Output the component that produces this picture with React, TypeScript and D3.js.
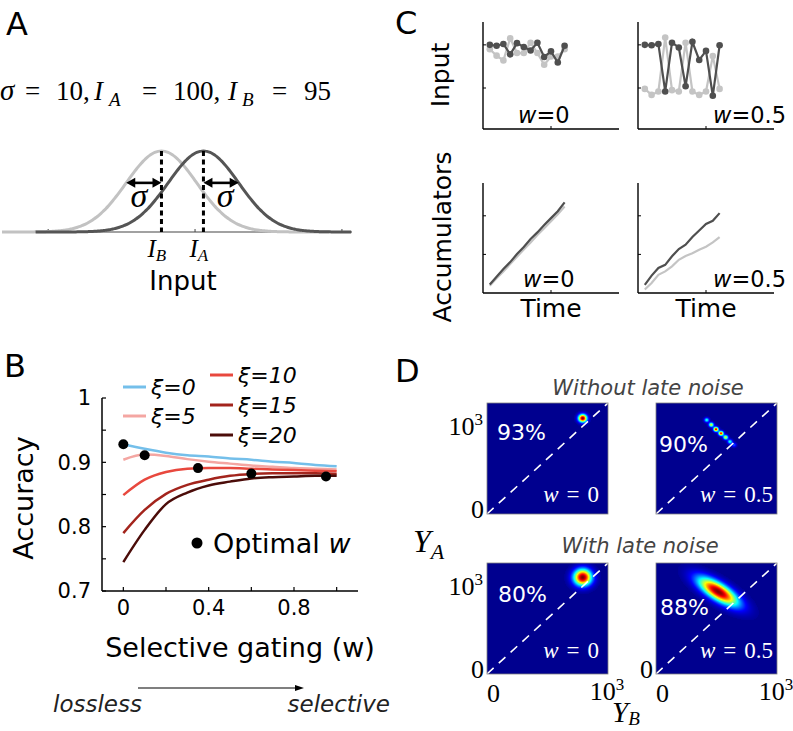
import React, { useMemo } from 'react'
import * as d3 from 'd3'

const SANS = 'DejaVu Sans, sans-serif'
const SERIF = 'Liberation Serif, serif'

// ---- A: the two input distributions ----
const inputNames = ['A', 'B']
const inputMeans = [100, 95]
const bumpWidth = 4.2 // drawn width of the bumps, schematic
const inputColors = ['#555555', '#c2c2c2']
const bumpSpans = [[80, 117.7], [76, 115]]
const inputTicks = [81.5, 99, 116.5]

// ---- B: accuracy vs selective gating ----
const gatingW = [0, 0.1, 0.2, 0.3, 0.4, 0.5, 0.6, 0.7, 0.8, 0.9, 1]
const xiLevels = [0, 5, 10, 15, 20]
const xiColors = ['#74bfea', '#f4a6a2', '#e8483e', '#a3241c', '#4b0c09']
const accXi0 = [0.928, 0.921, 0.915, 0.911, 0.909, 0.906, 0.904, 0.901, 0.899, 0.896, 0.894]
const accXi5 = [0.904, 0.912, 0.91, 0.905, 0.901, 0.898, 0.895, 0.893, 0.891, 0.89, 0.889]
const accXi10 = [0.849, 0.873, 0.885, 0.89, 0.891, 0.891, 0.89, 0.889, 0.888, 0.887, 0.886]
const accXi15 = [0.79, 0.826, 0.851, 0.865, 0.873, 0.879, 0.882, 0.883, 0.883, 0.883, 0.882]
const accXi20 = [0.745, 0.795, 0.835, 0.853, 0.864, 0.87, 0.875, 0.877, 0.878, 0.879, 0.879]
const accuracy = [accXi0, accXi5, accXi10, accXi15, accXi20]
const optimalW = [0, 0.1, 0.35, 0.6, 0.95]
const optimalAcc = [0.928, 0.911, 0.891, 0.8825, 0.878]
const accTicks = [0.7, 0.8, 0.9, 1]
const accTickLabels = ['0.7', '0.8', '0.9', '1']
const accMinor = [0.75, 0.85, 0.95]
const wTicks = [0, 0.4, 0.8]
const wMinor = [0.2, 0.6, 1]

// ---- C: example trials ----
const trialT = [1, 2, 3, 4, 5, 6, 7, 8, 9, 10, 11, 12]
const inW0A = [1.0, 0.98, 1.02, 0.78, 1.04, 0.95, 0.87, 1.05, 0.72, 0.85, 0.59, 0.98]
const inW0B = [0.9, 0.75, 0.64, 1.15, 0.81, 0.81, 1.05, 0.81, 0.54, 0.73, 0.73, 0.9]
const inW5A = [1.0, 0.99, 1.02, -0.08, 1.05, 0.94, 0.04, 1.07, 0.65, 0.86, -0.18, 0.99]
const inW5B = [-0.02, -0.16, -0.08, 1.17, -0.05, -0.08, 1.05, -0.08, -0.16, -0.08, 0.74, -0.02]
const accW0A = [0.22, 0.42, 0.62, 0.8, 1.01, 1.19, 1.4, 1.57, 1.76, 1.94, 2.12, 2.35]
const accW0B = [0.19, 0.38, 0.56, 0.75, 0.94, 1.13, 1.31, 1.5, 1.68, 1.86, 2.04, 2.24]
const accW5A = [0.21, 0.45, 0.65, 0.73, 0.95, 1.14, 1.25, 1.45, 1.62, 1.79, 1.87, 2.07]
const accW5B = [0.09, 0.26, 0.47, 0.56, 0.69, 0.86, 0.96, 1.03, 1.12, 1.2, 1.31, 1.45]
const gatingLabels = ['0', '0.5']

// ---- D: joint distributions of the accumulators ----
const heatTitles = ['Without late noise', 'With late noise']
const heatPercents = ['93%', '90%', '80%', '88%']
const heatW = ['0', '0.5', '0', '0.5']
const blobsNoLate0 = [{ b: 949, a: 1035, s1: 30, s2: 30, ang: 0, p: 1 }]
const blobsNoLate5 = [
  { b: 503, a: 1016, s1: 17, s2: 17, ang: 0, p: 0.4 },
  { b: 548, a: 965, s1: 17, s2: 17, ang: 0, p: 0.6 },
  { b: 595, a: 916, s1: 17, s2: 17, ang: 0, p: 0.92 },
  { b: 645, a: 872, s1: 17, s2: 17, ang: 0, p: 0.88 },
  { b: 691, a: 829, s1: 17, s2: 17, ang: 0, p: 0.6 },
  { b: 734, a: 782, s1: 17, s2: 17, ang: 0, p: 0.4 },
  { b: 774, a: 746, s1: 17, s2: 17, ang: 0, p: 0.2 },
]
const blobsLate0 = [{ b: 949, a: 1045, s1: 62, s2: 62, ang: 0, p: 1 }]
const blobsLate5 = [{ b: 618, a: 890, s1: 160, s2: 60, ang: -35, p: 1 }]
const heatBlobs = [blobsNoLate0, blobsNoLate5, blobsLate0, blobsLate5]

const jet = d3
  .scaleLinear<string>()
  .domain([0, 0.125, 0.375, 0.625, 0.875, 1])
  .range(['#00008f', '#0000ff', '#00ffff', '#ffff00', '#ff0000', '#800000'])
  .clamp(true)

function density(b: number, a: number, blobs: any[]) {
  let d = 0
  for (const g of blobs) {
    const t = (g.ang * Math.PI) / 180
    const db = b - g.b
    const da = a - g.a
    const u = db * Math.cos(t) + da * Math.sin(t)
    const v = -db * Math.sin(t) + da * Math.cos(t)
    d += g.p * Math.exp(-(u * u) / (2 * g.s1 * g.s1) - (v * v) / (2 * g.s2 * g.s2))
  }
  return Math.min(1, d)
}

function Arrow({ x1, x2, y, both }: any) {
  const h = 9
  const w = 5
  return (
    <g>
      <line x1={both ? x1 + h - 1 : x1} x2={x2 - h + 1} y1={y} y2={y} stroke="#000" strokeWidth={2.6} />
      <polygon points={`${x2},${y} ${x2 - h},${y - w} ${x2 - h},${y + w}`} fill="#000" />
      {both && <polygon points={`${x1},${y} ${x1 + h},${y - w} ${x1 + h},${y + w}`} fill="#000" />}
    </g>
  )
}

function PanelA() {
  const x = d3.scaleLinear().domain([76, 117.7]).range([2, 352])
  const y = d3.scaleLinear().domain([0, 1]).range([232, 151])
  const bump = (m: number) =>
    d3
      .line<number>()
      .x(u => x(u))
      .y(u => y(Math.exp(-((u - m) ** 2) / (2 * bumpWidth * bumpWidth))))
      .curve(d3.curveBasis)
  const arrowY = y(Math.exp(-0.5))
  const mA = inputMeans[0]
  const mB = inputMeans[1]
  return (
    <g>
      <text x={6} y={35} fontSize={32} fontFamily={SANS}>A</text>
      <g fontFamily={SERIF} fontSize={27}>
        <text x={0} y={100} fontStyle="italic" fontSize={29}>σ</text>
        <text x={25} y={100}>=</text>
        <text x={56} y={100}>10,</text>
        <text x={94} y={100} fontStyle="italic">I</text>
        <text x={109} y={106} fontStyle="italic" fontSize={19}>A</text>
        <text x={142} y={100}>=</text>
        <text x={173} y={100}>100,</text>
        <text x={228} y={100} fontStyle="italic">I</text>
        <text x={242} y={106} fontStyle="italic" fontSize={19}>B</text>
        <text x={272} y={100}>=</text>
        <text x={304} y={100}>95</text>
      </g>
      <line x1={x(76)} x2={x(117.7)} y1={y(0)} y2={y(0)} stroke="#444" strokeWidth={1.2} />
      {inputTicks.map(t => (
        <line key={t} x1={x(t)} x2={x(t)} y1={y(0)} y2={y(0) - 3} stroke="#444" strokeWidth={1} />
      ))}
      {[1, 0].map(i => (
        <path
          key={i}
          d={bump(inputMeans[i])(d3.range(bumpSpans[i][0], bumpSpans[i][1] + 0.01, 0.2)) || ''}
          fill="none"
          stroke={inputColors[i]}
          strokeWidth={3}
        />
      ))}
      {inputMeans.map(m => (
        <line key={m} x1={x(m)} x2={x(m)} y1={y(1)} y2={y(0)} stroke="#000" strokeWidth={3} strokeDasharray="5,3.5" />
      ))}
      <Arrow x1={x(mB - bumpWidth)} x2={x(mB)} y={arrowY} both />
      <Arrow x1={x(mA)} x2={x(mA + bumpWidth)} y={arrowY} both />
      <text x={x(mB - bumpWidth / 2) - 5} y={207} fontFamily={SERIF} fontStyle="italic" fontSize={34} textAnchor="middle">σ</text>
      <text x={x(mA + bumpWidth / 2) + 4} y={207} fontFamily={SERIF} fontStyle="italic" fontSize={34} textAnchor="middle">σ</text>
      {inputMeans.map((m, i) => (
        <text key={m} x={x(m) - 14} y={257} fontFamily={SERIF} fontStyle="italic" fontSize={25}>
          I<tspan fontSize={17} dy={4}>{inputNames[i]}</tspan>
        </text>
      ))}
      <text x={183} y={290} fontFamily={SANS} fontSize={26} textAnchor="middle">Input</text>
    </g>
  )
}

function PanelB() {
  const x = d3.scaleLinear().domain([-0.1, 1.1]).range([102, 358])
  const y = d3.scaleLinear().domain([0.7, 1]).range([591, 398])
  const line = d3
    .line<number>()
    .x((_, i) => x(gatingW[i]))
    .y(v => y(v))
    .curve(d3.curveMonotoneX)
  const legendPos = [[123, 387], [123, 416], [210, 375], [210, 405], [210, 435]]
  return (
    <g fontFamily={SANS}>
      <text x={4} y={377} fontSize={32}>B</text>
      {xiLevels.map((xi, i) => (
        <g key={xi}>
          <line x1={legendPos[i][0]} x2={legendPos[i][0] + 23} y1={legendPos[i][1]} y2={legendPos[i][1]} stroke={xiColors[i]} strokeWidth={3} />
          <text x={legendPos[i][0] + 28} y={legendPos[i][1] + 8} fontSize={22} fontStyle="italic">{`ξ=${xi}`}</text>
        </g>
      ))}
      {accuracy.map((s, i) => (
        <path key={i} d={line(s) || ''} fill="none" stroke={xiColors[i]} strokeWidth={2.5} />
      ))}
      {optimalW.map((w, i) => (
        <circle key={w} cx={x(w)} cy={y(optimalAcc[i])} r={5} fill="#000" />
      ))}
      <line x1={x(-0.1)} x2={x(-0.1)} y1={y(1)} y2={y(0.7)} stroke="#000" strokeWidth={1.5} />
      <line x1={x(-0.1)} x2={x(1.1)} y1={y(0.7)} y2={y(0.7)} stroke="#000" strokeWidth={1.5} />
      {accTicks.concat(accMinor).map(t => (
        <line key={t} x1={x(-0.1)} x2={x(-0.1) + 4} y1={y(t)} y2={y(t)} stroke="#000" strokeWidth={1.2} />
      ))}
      {wTicks.concat(wMinor).map(t => (
        <line key={t} x1={x(t)} x2={x(t)} y1={y(0.7)} y2={y(0.7) - 4} stroke="#000" strokeWidth={1.2} />
      ))}
      {accTicks.map((t, i) => (
        <text key={t} x={x(-0.1) - 11} y={y(t)} dy="0.35em" fontSize={21} textAnchor="end">{accTickLabels[i]}</text>
      ))}
      {wTicks.map(t => (
        <text key={t} x={x(t)} y={615} fontSize={21} textAnchor="middle">{d3.format('~g')(t)}</text>
      ))}
      <text transform="translate(33,498) rotate(-90)" fontSize={27} textAnchor="middle">Accuracy</text>
      <text x={240} y={657} fontSize={27} textAnchor="middle">Selective gating (w)</text>
      <circle cx={197} cy={543} r={5.5} fill="#000" />
      <text x={213} y={553} fontSize={27}>
        Optimal <tspan fontStyle="italic">w</tspan>
      </text>
      <line x1={138} x2={296} y1={688} y2={688} stroke="#000" strokeWidth={1.2} />
      <polygon points="304,688 295,685 295,691" fill="#000" />
      <text x={53} y={712} fontSize={23} fontStyle="italic" fill="#222">lossless</text>
      <text x={390} y={712} fontSize={23} fontStyle="italic" fill="#222" textAnchor="end">selective</text>
    </g>
  )
}

function MiniPlot({ x0, top, bottom, domain, ticks, a, b, dots, gating, labelDx, labelY }: any) {
  const x = d3.scaleLinear().domain([0, 20]).range([x0, x0 + 136])
  const y = d3.scaleLinear().domain(domain).range([bottom, top])
  const line = d3
    .line<number>()
    .x((_, i) => x(trialT[i]))
    .y(v => y(v))
  const series = [
    { v: b, c: '#c4c4c4' },
    { v: a, c: '#4f4f4f' },
  ]
  return (
    <g>
      {series.map((s, k) => (
        <g key={k}>
          <path d={line(s.v) || ''} fill="none" stroke={s.c} strokeWidth={2.2} />
          {dots && s.v.map((v: number, i: number) => <circle key={i} cx={x(trialT[i])} cy={y(v)} r={3.3} fill={s.c} />)}
        </g>
      ))}
      <line x1={x0} x2={x0} y1={top} y2={bottom} stroke="#000" strokeWidth={1.4} />
      <line x1={x0} x2={x0 + 136} y1={bottom} y2={bottom} stroke="#000" strokeWidth={1.4} />
      {ticks.map((t: number) => (
        <line key={t} x1={x0} x2={x0 + 3} y1={y(t)} y2={y(t)} stroke="#000" strokeWidth={1} />
      ))}
      <line x1={x(10)} x2={x(10)} y1={bottom} y2={bottom - 3} stroke="#000" strokeWidth={1} />
      <text x={x0 + labelDx} y={labelY} fontSize={22.5} fontFamily={SANS}>
        <tspan fontStyle="italic">w</tspan>={gating}
      </text>
    </g>
  )
}

function PanelC() {
  const xs = [483, 638]
  const inDomain = [-0.95, 1.53]
  const accDomain = [0, 2.85]
  return (
    <g fontFamily={SANS}>
      <text x={395} y={34} fontSize={32}>C</text>
      <MiniPlot x0={xs[0]} top={22} bottom={129} domain={inDomain} ticks={[0, 1]} a={inW0A} b={inW0B} dots gating={gatingLabels[0]} labelDx={35} labelY={123} />
      <MiniPlot x0={xs[1]} top={22} bottom={129} domain={inDomain} ticks={[0, 1]} a={inW5A} b={inW5B} dots gating={gatingLabels[1]} labelDx={75} labelY={123} />
      <MiniPlot x0={xs[0]} top={183} bottom={293} domain={accDomain} ticks={[1, 2]} a={accW0A} b={accW0B} gating={gatingLabels[0]} labelDx={40} labelY={287} />
      <MiniPlot x0={xs[1]} top={183} bottom={293} domain={accDomain} ticks={[1, 2]} a={accW5A} b={accW5B} gating={gatingLabels[1]} labelDx={75} labelY={287} />
      <text transform="translate(449,75) rotate(-90)" fontSize={25} textAnchor="middle">Input</text>
      <text transform="translate(451,237) rotate(-90)" fontSize={25} textAnchor="middle">Accumulators</text>
      {xs.map(x0 => (
        <text key={x0} x={x0 + 68} y={317} fontSize={25} textAnchor="middle">Time</text>
      ))}
    </g>
  )
}

function Heatmap({ k }: any) {
  const col = k % 2
  const row = Math.floor(k / 2)
  const x0 = [487, 656][col]
  const y0 = [403, 563][row]
  const W = 121
  const H = 111
  const x = d3.scaleLinear().domain([0, 1200]).range([x0, x0 + W])
  const y = d3.scaleLinear().domain([0, 1200]).range([y0 + H, y0])
  const cells = useMemo(() => {
    const out: any[] = []
    for (const i of d3.range(W)) {
      for (const j of d3.range(H)) {
        const d = density(x.invert(x0 + i + 0.5), y.invert(y0 + j + 0.5), heatBlobs[k])
        if (d > 0.012) out.push({ i, j, c: jet(d) })
      }
    }
    return out
  }, [k])
  const pctPos = [[10, 37], [3, 49], [11, 39], [4, 52]][k]
  const wPos = [[112, 99], [117, 99], [112, 95], [117, 95]][k]
  return (
    <g>
      <rect x={x0} y={y0} width={W} height={H} fill={jet(0)} />
      <g shapeRendering="crispEdges">
        {cells.map(c => (
          <rect key={c.i * 1000 + c.j} x={x0 + c.i} y={y0 + c.j} width={1} height={1} fill={c.c} />
        ))}
      </g>
      <line x1={x(0)} y1={y(0)} x2={x(1200)} y2={y(1200)} stroke="#fff" strokeWidth={1.6} strokeDasharray="9,7" />
      <rect x={x0} y={y0} width={W} height={H} fill="none" stroke="#808080" strokeWidth={0.8} />
      <text x={x0 + pctPos[0]} y={y0 + pctPos[1]} fill="#fff" fontFamily={SANS} fontSize={22}>{heatPercents[k]}</text>
      <text x={x0 + wPos[0]} y={y0 + wPos[1]} fill="#fff" fontFamily={SERIF} fontSize={23} textAnchor="end">
        <tspan fontStyle="italic">w</tspan>
        <tspan dx={8}>=</tspan>
        <tspan dx={8}>{heatW[k]}</tspan>
      </text>
      {col === 0 && (
        <text x={x0 - 4} y={y(1000) + 13} fontFamily={SERIF} fontSize={26} textAnchor="end">
          10<tspan fontSize={17} dy={-10}>3</tspan>
        </text>
      )}
      {(col === 0 || row === 1) && (
        <text x={x0 - 3} y={y(0) + 4} fontFamily={SERIF} fontSize={26} textAnchor="end">0</text>
      )}
      {row === 1 && (
        <g fontFamily={SERIF} fontSize={26}>
          <text x={x(0)} y={702}>0</text>
          <text x={x(1000) + 2} y={700}>
            10<tspan fontSize={17} dy={-10}>3</tspan>
          </text>
        </g>
      )}
    </g>
  )
}

function PanelD() {
  return (
    <g>
      <text x={395} y={382} fontSize={32} fontFamily={SANS}>D</text>
      <text x={648} y={395} fontSize={21} fontFamily={SANS} fontStyle="italic" fill="#444" textAnchor="middle">{heatTitles[0]}</text>
      <text x={640} y={553} fontSize={21} fontFamily={SANS} fontStyle="italic" fill="#444" textAnchor="middle">{heatTitles[1]}</text>
      {[0, 1, 2, 3].map(k => (
        <Heatmap key={k} k={k} />
      ))}
      <text x={413} y={552} fontFamily={SERIF} fontStyle="italic" fontSize={32}>
        Y<tspan fontSize={22} dy={7}>A</tspan>
      </text>
      <text x={612} y={722} fontFamily={SERIF} fontStyle="italic" fontSize={29}>
        Y<tspan fontSize={19} dy={3}>B</tspan>
      </text>
    </g>
  )
}

export default function App() {
  return (
    <svg width={793} height={731} style={{ position: 'absolute', left: 0, top: 0, background: '#fff' }}>
      <PanelA />
      <PanelB />
      <PanelC />
      <PanelD />
    </svg>
  )
}
